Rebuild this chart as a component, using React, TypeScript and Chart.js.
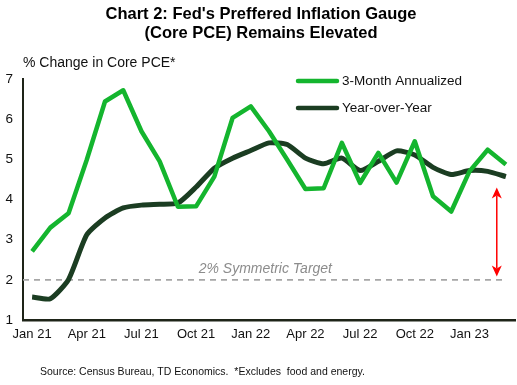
import React, { useEffect, useRef } from "react";
import { Chart, registerables } from "chart.js";

Chart.register(...registerables);

const labels = [
  "Jan 21", "Feb 21", "Mar 21", "Apr 21", "May 21", "Jun 21", "Jul 21", "Aug 21", "Sep 21",
  "Oct 21", "Nov 21", "Dec 21", "Jan 22", "Feb 22", "Mar 22", "Apr 22", "May 22", "Jun 22",
  "Jul 22", "Aug 22", "Sep 22", "Oct 22", "Nov 22", "Dec 22", "Jan 23", "Feb 23", "Mar 23",
];

const threeMonth = [
  2.71, 3.3, 3.66, 4.99, 6.44, 6.72, 5.7, 4.95, 3.82,
  3.83, 4.57, 6.03, 6.32, 5.7, 4.99, 4.26, 4.28, 5.41,
  4.41, 5.16, 4.42, 5.45, 4.08, 3.7, 4.7, 5.24, 4.87,
];

const yearOverYear = [
  1.57, 1.53, 2.01, 3.12, 3.54, 3.79, 3.86, 3.88, 3.91,
  4.31, 4.78, 5.03, 5.22, 5.41, 5.37, 5.03, 4.89, 5.03,
  4.72, 4.95, 5.21, 5.11, 4.8, 4.62, 4.72, 4.7, 4.57,
];

const seriesNames = ["3-Month Annualized", "Year-over-Year"];
const targetValue = 2;
const targetLabel = "2% Symmetric Target";
const arrowRange = [4.3, 2.08];
const arrowIndex = 25.5;
const titleLines = ["Chart 2: Fed's Preffered Inflation Gauge", "(Core PCE) Remains Elevated"];
const yAxisTitle = "% Change in Core PCE*";
const footer = "Source: Census Bureau, TD Economics.  *Excludes  food and energy.";

const GREEN = "#14b52e";
const DARK = "#1b3d22";
const FONT = "'Liberation Sans', Arial, sans-serif";

const decorPlugin = {
  id: "decor",
  beforeDatasetsDraw(chart: any) {
    const { ctx, chartArea, scales } = chart;
    const y = scales.y.getPixelForValue(targetValue);
    const xEnd = scales.x.getPixelForValue(labels.length - 1);
    ctx.save();
    ctx.strokeStyle = "#a6a6a6";
    ctx.lineWidth = 1.6;
    ctx.setLineDash([6, 5]);
    ctx.beginPath();
    ctx.moveTo(chartArea.left, y);
    ctx.lineTo(xEnd, y);
    ctx.stroke();
    ctx.setLineDash([]);
    ctx.fillStyle = "#8c8c8c";
    ctx.font = `italic 14px ${FONT}`;
    ctx.textAlign = "center";
    ctx.textBaseline = "alphabetic";
    ctx.fillText(targetLabel, scales.x.getPixelForValue(12.8), y - 7);
    ctx.restore();
  },
  afterDraw(chart: any) {
    const { ctx, scales } = chart;
    ctx.save();
    // Title
    ctx.fillStyle = "#000";
    ctx.font = `bold 16.5px ${FONT}`;
    ctx.textAlign = "center";
    ctx.textBaseline = "middle";
    ctx.fillText(titleLines[0], 261, 14);
    ctx.fillText(titleLines[1], 261, 33);
    // Y axis title
    ctx.font = `14px ${FONT}`;
    ctx.textAlign = "left";
    ctx.fillStyle = "#111";
    ctx.fillText(yAxisTitle, 23, 63);
    // Legend
    const legendY = [81, 108];
    const colors = [GREEN, DARK];
    for (let i = 0; i < 2; i++) {
      ctx.strokeStyle = colors[i];
      ctx.lineWidth = 4.5;
      ctx.lineCap = "round";
      ctx.beginPath();
      ctx.moveTo(298, legendY[i]);
      ctx.lineTo(337, legendY[i]);
      ctx.stroke();
      ctx.fillStyle = "#111";
      ctx.font = `13.5px ${FONT}`;
      ctx.textAlign = "left";
      ctx.fillText(seriesNames[i], 342, legendY[i]);
    }
    // Footer
    ctx.font = `10.5px ${FONT}`;
    ctx.fillStyle = "#111";
    ctx.fillText(footer, 40, 372);
    // Arrow
    const ax = scales.x.getPixelForValue(arrowIndex);
    const y1 = scales.y.getPixelForValue(arrowRange[0]);
    const y2 = scales.y.getPixelForValue(arrowRange[1]);
    ctx.strokeStyle = "#ff0000";
    ctx.fillStyle = "#ff0000";
    ctx.lineWidth = 1.5;
    ctx.lineCap = "butt";
    ctx.beginPath();
    ctx.moveTo(ax, y1 + 8);
    ctx.lineTo(ax, y2 - 8);
    ctx.stroke();
    const head = (tipY: number, dir: number) => {
      ctx.beginPath();
      ctx.moveTo(ax, tipY);
      ctx.lineTo(ax - 5, tipY + dir * 11);
      ctx.lineTo(ax, tipY + dir * 8);
      ctx.lineTo(ax + 5, tipY + dir * 11);
      ctx.closePath();
      ctx.fill();
    };
    head(y1, 1);
    head(y2, -1);
    ctx.restore();
  },
};

export default function App() {
  const ref = useRef<HTMLCanvasElement>(null);
  useEffect(() => {
    if (!ref.current) return;
    const chart = new Chart(ref.current, {
      type: "line",
      data: {
        labels,
        datasets: [
          {
            label: seriesNames[0],
            data: threeMonth,
            borderColor: GREEN,
            backgroundColor: GREEN,
            borderWidth: 4.5,
            pointRadius: 0,
            tension: 0,
            borderJoinStyle: "round",
          },
          {
            label: seriesNames[1],
            data: yearOverYear,
            borderColor: DARK,
            backgroundColor: DARK,
            borderWidth: 5,
            pointRadius: 0,
            tension: 0.2,
            borderJoinStyle: "round",
          },
        ],
      },
      options: {
        responsive: false,
        animation: false,
        layout: { padding: { top: 79, right: 2, left: 0, bottom: 25 } },
        plugins: {
          legend: { display: false },
          title: { display: false },
          tooltip: { enabled: false },
        },
        scales: {
          x: {
            offset: true,
            grid: { display: false, drawTicks: false },
            border: { display: true, color: "#1e2418", width: 2.5 },
            ticks: {
              autoSkip: false,
              maxRotation: 0,
              padding: 7,
              color: "#111",
              font: { family: FONT, size: 13 },
              callback: (_v: any, i: number) => (i % 3 === 0 ? labels[i] : ""),
            },
            afterFit: (s: any) => {
              s.height = 40;
            },
          },
          y: {
            min: 1,
            max: 7,
            grid: { display: false, drawTicks: false },
            border: { display: true, color: "#1e2418", width: 2 },
            ticks: {
              stepSize: 1,
              padding: 10,
              color: "#111",
              font: { family: FONT, size: 13.5 },
            },
            afterFit: (s: any) => {
              s.width = 23;
            },
          },
        },
      },
      plugins: [decorPlugin],
    });
    return () => chart.destroy();
  }, []);
  return (
    <div style={{ position: "absolute", left: 0, top: 0, width: 517, height: 385, background: "#fff" }}>
      <canvas ref={ref} width={517} height={385} style={{ display: "block" }} />
    </div>
  );
}
